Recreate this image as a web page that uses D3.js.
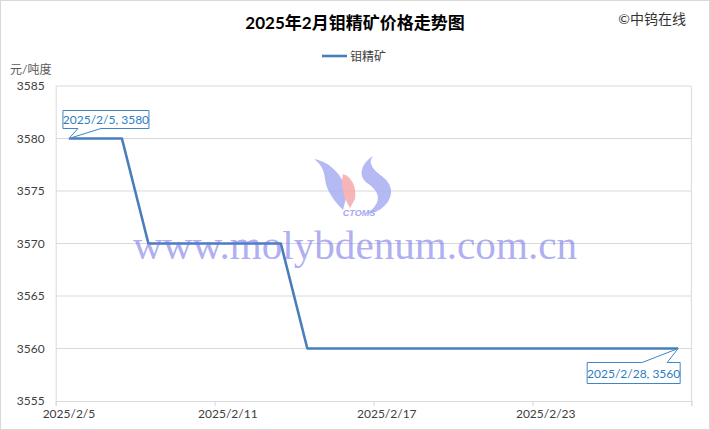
<!DOCTYPE html>
<html><head><meta charset="utf-8">
<script src="https://cdn.jsdelivr.net/npm/d3@7"></script>
<style>body{margin:0;background:#fff}svg{display:block}</style>
</head><body><svg id="c" width="710" height="430"></svg>
<script>
const dates = ["2025-02-05","2025-02-06","2025-02-07","2025-02-08","2025-02-10","2025-02-11","2025-02-12","2025-02-13","2025-02-14","2025-02-17","2025-02-18","2025-02-19","2025-02-20","2025-02-21","2025-02-24","2025-02-25","2025-02-26","2025-02-27","2025-02-28"];
const prices = [3580,3580,3580,3570,3570,3570,3570,3570,3560,3560,3560,3560,3560,3560,3560,3560,3560,3560,3560];
const yTicks = [3555,3560,3565,3570,3575,3580,3585];
const xTickLabels = ["2025/2/5","2025/2/11","2025/2/17","2025/2/23"];
const xTickDates = ["2025-02-05","2025-02-11","2025-02-17","2025-02-23","2025-03-01"];
const seriesName = "钼精矿";
const title = "2025年2月钼精矿价格走势图";

const parse = s => { const [y,m,d] = s.split("-").map(Number); return new Date(y, m-1, d); };
const half = 12*3600*1000;
const svg = d3.select("#c");
const font = "Lato, 'Noto Sans CJK SC', sans-serif";
const L = 55.7, R = 691.4, T = 86, B = 401;
const x = d3.scaleTime().domain([new Date(parse("2025-02-05") - half), new Date(parse("2025-02-28").getTime() + half)]).range([L, R]);
const y = d3.scaleLinear().domain([3555, 3585]).range([B, T]);

svg.append("rect").attr("x",0.5).attr("y",0.5).attr("width",709).attr("height",429).attr("fill","#fff").attr("stroke","#d9d9d9");

// gridlines
svg.append("g").selectAll("line").data(yTicks.filter(v=>v>3555)).join("line")
  .attr("x1",L).attr("x2",R).attr("y1",d=>y(d)).attr("y2",d=>y(d)).attr("stroke","#d9d9d9").attr("stroke-width",1);
svg.append("line").attr("x1",R).attr("x2",R).attr("y1",T).attr("y2",B).attr("stroke","#d9d9d9");

// y axis
const ya = svg.append("g").attr("transform",`translate(${L},0)`).call(d3.axisLeft(y).tickValues(yTicks).tickSize(0).tickPadding(11).tickFormat(d3.format("d")));
ya.select(".domain").attr("stroke","#d9d9d9");
ya.selectAll("text").attr("font-family",font).attr("font-size",12).attr("fill","#404040");

// x axis
const xa = svg.append("g").attr("transform",`translate(0,${B})`)
  .call(d3.axisBottom(x).tickValues(xTickDates.map(s=>new Date(parse(s)-half))).tickSize(5).tickFormat(""));
xa.select(".domain").attr("stroke","#d9d9d9");
xa.selectAll("line").attr("stroke","#d9d9d9");
svg.append("g").selectAll("text").data(xTickLabels).join("text")
  .attr("x",(d,i)=>x(parse(xTickDates[i]))).attr("y",B+17).attr("text-anchor","middle")
  .attr("font-family",font).attr("font-size",12).attr("fill","#404040").text(d=>d);

// line
const pts = dates.map((d,i)=>[parse(d), prices[i]]);
svg.append("path").datum(pts).attr("fill","none").attr("stroke","#4a7ebb").attr("stroke-width",2.6)
  .attr("stroke-linejoin","round")
  .attr("d", d3.line().x(d=>x(d[0])).y(d=>y(d[1])));

// watermark logo
const wm = svg.append("g").attr("opacity",0.85);
wm.append("path").attr("fill","#a9aef2").attr("d","M314,159 C331,162 347,178 346,198 L343,210 C334,201 326,190 325,179 C324,170 321,164 314,159 Z");
wm.append("path").attr("fill","#f5a9ab").attr("d","M343,174 C351,176 357,187 355,199 L350,208 C344,198 340,187 343,174 Z");
wm.append("path").attr("fill","#a9aef2").attr("d","M373,156 C362,163 357,175 367,183 C379,191 384,201 367,214 C379,213 392,203 391,190 C390,179 378,175 373,168 C370,163 370,160 373,156 Z");
wm.append("text").attr("x",359).attr("y",216).attr("text-anchor","middle").attr("font-family","'Liberation Sans', sans-serif")
  .attr("font-weight","bold").attr("font-style","italic").attr("font-size",9).attr("fill","#959af0").text("CTOMS");
svg.append("text").attr("x",133).attr("y",259).attr("font-family","'Liberation Serif', serif").attr("font-size",40)
  .attr("textLength",444).attr("lengthAdjust","spacingAndGlyphs").attr("fill","#6f6fe6").attr("opacity",0.55).text("www.molybdenum.com.cn");

// callouts
function callout(pt, label, box, base) {
  const px = x(pt[0]), py = y(pt[1]);
  const [bx, by, bw, bh] = [px+box[0], py+box[1], box[2], box[3]];
  let d;
  if (base === "bottom") {
    d = `M${bx},${by}H${bx+bw}V${by+bh}H${px+32}L${px},${py}L${px+9},${by+bh}H${bx}Z`;
  } else {
    d = `M${bx},${by}H${px-36}L${px},${py}L${px-11},${by}H${bx+bw}V${by+bh}H${bx}Z`;
  }
  svg.append("path").attr("d",d).attr("fill","#fff").attr("stroke","#3f86c6").attr("stroke-width",1);
  svg.append("text").attr("x",bx+bw/2).attr("y",by+bh/2+4.5).attr("text-anchor","middle")
    .attr("font-family",font).attr("font-size",12).attr("fill","#2f7bbf").text(label);
}
const fmt = d => `${d.getFullYear()}/${d.getMonth()+1}/${d.getDate()}`;
callout(pts[0], `${fmt(pts[0][0])}, ${pts[0][1]}`, [-6,-28,86,18], "bottom");
const last = pts[pts.length-1];
callout(last, `${fmt(last[0])}, ${last[1]}`, [-91,14,93,21], "top");

// title etc
svg.append("text").attr("x",355).attr("y",29).attr("text-anchor","middle").attr("font-family",font)
  .attr("font-weight","bold").attr("font-size",17).attr("fill","#000").text(title);
svg.append("text").attr("x",686).attr("y",24).attr("text-anchor","end").attr("font-family",font)
  .attr("font-size",14).attr("fill","#333").text("©中钨在线");
svg.append("line").attr("x1",322).attr("x2",347).attr("y1",56).attr("y2",56).attr("stroke","#4a7ebb").attr("stroke-width",2.6);
svg.append("text").attr("x",350).attr("y",60.5).attr("font-family",font).attr("font-size",12).attr("fill","#404040").text(seriesName);
svg.append("text").attr("x",10).attr("y",74).attr("font-family",font).attr("font-size",12).attr("fill","#595959").text("元/吨度");
</script></body></html>
